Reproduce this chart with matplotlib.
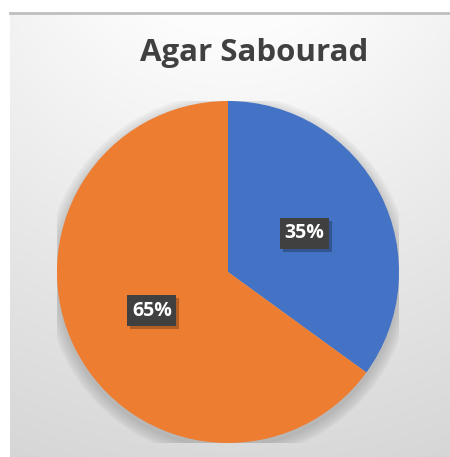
import numpy as np
import matplotlib
matplotlib.use("Agg")
import matplotlib.pyplot as plt
from matplotlib.patches import Circle, Rectangle

# data
labels = ["A", "B"]
values = [35, 65]
colors = ["#4472C4", "#ED7D31"]
title = "Agar Sabourad"

W, H = 450, 457
fig = plt.figure(figsize=(W / 100, H / 100), dpi=100)
fig.patch.set_facecolor("white")

# ── background (gradient panel) ──────────────────────────────────────────────
x0, y0 = 10, 13
bg = fig.add_axes([x0 / W, 0, (W - x0) / W, (H - y0) / H])
yy, xx = np.mgrid[y0:H, x0:W]
d = np.hypot(xx - 230, yy + 100)
g = np.clip(255 - (d - 100) * 0.082, 205, 252) / 255
bg.imshow(np.dstack([g, g, g]), aspect="auto", interpolation="bilinear")
bg.axis("off")
fig.add_artist(plt.Line2D([x0 / W, 1], [1 - y0 / H, 1 - y0 / H], color="#bfbfbf", lw=2))

# ── pie ───────────────────────────────────────────────────────────────────────
cx, cy, r = 228, 272, 171
ax = fig.add_axes([(cx - r) / W, (H - cy - r) / H, 2 * r / W, 2 * r / H])

wedges, _ = ax.pie(values, colors=colors, startangle=90, counterclock=False,
                   radius=1, wedgeprops=dict(linewidth=0))
for w in wedges:
    w.set_zorder(2)

# soft shadow, mostly below the pie
for k in range(8):
    ax.add_patch(Circle((0, -0.025), 1 + 0.009 * k, color="black", alpha=0.02, zorder=0))

ax.set_xlim(-1, 1)
ax.set_ylim(-1, 1)
ax.axis("off")

px_unit = 2 / (2 * r)
bw, bh = 49 * px_unit, 31 * px_unit
for w, v in zip(wedges, values):
    ang = np.deg2rad((w.theta1 + w.theta2) / 2)
    px, py = 0.5 * np.cos(ang), 0.5 * np.sin(ang)
    ax.add_patch(Rectangle((px - bw / 2 + 0.018, py - bh / 2 - 0.018), bw, bh,
                           fc="black", ec="none", alpha=0.25, zorder=3))
    ax.add_patch(Rectangle((px - bw / 2, py - bh / 2), bw, bh,
                           fc="#404040", ec="none", zorder=4))
    ax.text(px, py, f"{v}%", fontsize=14, fontweight="bold", family="Open Sans",
            color="white", ha="center", va="center", zorder=5)

fig.text(254 / W, 1 - 53 / H, title, fontsize=22.5, fontweight="bold", family="Open Sans",
         color="#404040", ha="center", va="center")

fig.savefig("out.png", dpi=100)
